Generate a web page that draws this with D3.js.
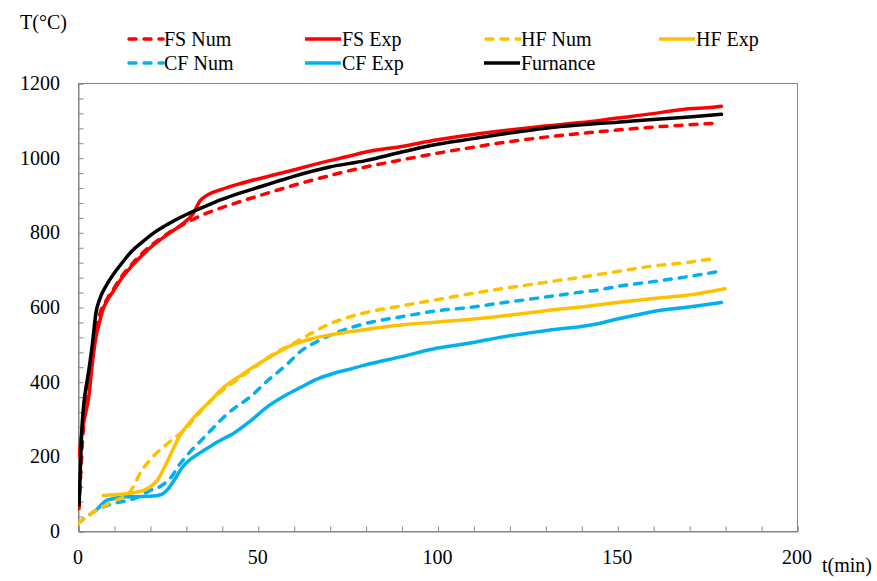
<!DOCTYPE html>
<html>
<head>
<meta charset="utf-8">
<script src="https://cdn.jsdelivr.net/npm/d3@7"></script>
<style>
  body { margin: 0; background: #fff; }
  text { font-family: "Liberation Serif", "Times New Roman", serif; fill: #000; }
</style>
</head>
<body>
<div id="chart_container"></div>
<script>
  // time (min) and temperature (°C)
  const furnaceT = [0.3, 0.6, 1, 1.5, 2, 3, 4, 5, 6, 8, 10, 12, 15, 18, 21, 25, 30, 35, 40, 45, 50, 55, 60, 70, 80, 90, 100, 110, 120, 130, 140, 150, 160, 170, 179];
  const furnaceV = [70, 150, 260, 330, 370, 430, 500, 585, 620, 660, 690, 715, 750, 775, 798, 822, 847, 868, 888, 905, 920, 935, 950, 975, 992, 1015, 1036, 1051, 1066, 1079, 1088, 1095, 1102, 1109, 1116];

  const fsExpT = [0.3, 1, 2, 3, 4, 5, 6, 7, 8, 10, 12, 15, 18, 21, 25, 29, 32, 34, 36, 40, 45, 50, 55, 60, 65, 70, 75, 80, 90, 100, 110, 120, 130, 140, 150, 160, 165, 170, 175, 179];
  const fsExpV = [200, 260, 310, 360, 450, 520, 560, 595, 615, 645, 675, 710, 740, 766, 795, 822, 850, 885, 900, 915, 930, 943, 955, 967, 980, 992, 1003, 1015, 1030, 1048, 1062, 1074, 1085, 1094, 1106, 1118, 1125, 1131, 1134, 1138];

  const fsNumT = [0.3, 1, 2, 3, 4, 5, 6, 8, 10, 12, 15, 18, 21, 25, 30, 35, 40, 45, 50, 60, 70, 80, 90, 100, 110, 120, 130, 140, 150, 160, 170, 177];
  const fsNumV = [60, 200, 330, 410, 480, 540, 580, 620, 650, 680, 715, 745, 770, 797, 825, 848, 866, 882, 897, 926, 952, 975, 994, 1012, 1028, 1043, 1055, 1065, 1074, 1082, 1088, 1092];

  const hfExpT = [7, 10, 15, 18, 20, 22, 24, 26, 28, 30, 33, 37, 40, 45, 50, 55, 60, 65, 70, 75, 80, 90, 100, 110, 120, 130, 140, 150, 160, 170, 175, 180];
  const hfExpV = [95, 97, 102, 108, 118, 135, 170, 210, 250, 278, 312, 350, 380, 415, 447, 475, 500, 515, 525, 533, 540, 552, 560, 568, 578, 590, 600, 612, 623, 632, 640, 649];

  const hfNumT = [0, 5, 10, 14, 15.5, 17, 20, 25, 30, 35, 40, 45, 50, 55, 60, 65, 70, 75, 80, 90, 100, 110, 120, 130, 140, 150, 160, 170, 177];
  const hfNumV = [20, 55, 80, 100, 120, 150, 190, 235, 275, 330, 375, 410, 445, 478, 503, 530, 555, 572, 585, 603, 620, 637, 652, 666, 680, 695, 710, 720, 730];

  const cfExpT = [5, 6, 8, 10, 13, 16, 20, 23, 25, 27, 29, 31, 34, 37, 40, 43, 48, 53, 58, 62, 66, 71, 75, 80, 90, 100, 110, 117, 125, 131, 140, 145, 150, 155, 160, 170, 179];
  const cfExpV = [55, 65, 82, 87, 92, 92, 93, 97, 112, 140, 170, 190, 210, 228, 245, 260, 295, 335, 365, 385, 405, 422, 432, 445, 467, 490, 505, 518, 530, 538, 548, 556, 568, 578, 588, 600, 612];

  const cfNumT = [0, 3, 5, 8, 10, 13, 16, 20, 23, 26, 28, 31, 34, 37, 40, 43, 48, 53, 58, 62, 66, 71, 75, 80, 90, 100, 110, 117, 125, 131, 140, 145, 150, 160, 170, 178];
  const cfNumV = [20, 42, 55, 68, 74, 80, 88, 108, 120, 145, 175, 210, 240, 270, 300, 325, 360, 405, 445, 482, 505, 528, 542, 556, 574, 590, 600, 610, 620, 628, 640, 646, 655, 668, 682, 695];

  const seriesNames = ['FS Num', 'FS Exp', 'HF Num', 'HF Exp', 'CF Num', 'CF Exp', 'Furnance'];
  const seriesColors = ['#ff0000', '#ff0000', '#ffc000', '#ffc000', '#00b0f0', '#00b0f0', '#000000'];
  const seriesDashed = [true, false, true, false, true, false, false];
  const seriesT = [fsNumT, fsExpT, hfNumT, hfExpT, cfNumT, cfExpT, furnaceT];
  const seriesV = [fsNumV, fsExpV, hfNumV, hfExpV, cfNumV, cfExpV, furnaceV];

  const xTicks = [0, 50, 100, 150, 200];
  const yTicks = [0, 200, 400, 600, 800, 1000, 1200];

  const W = 877, H = 581;
  const plotLeft = 78, plotRight = 797, plotTop = 83, plotBottom = 531;

  const svg = d3.select('#chart_container').append('svg')
    .attr('width', W)
    .attr('height', H);

  const xScale = d3.scaleLinear().domain([0, 200]).range([plotLeft, plotRight]);
  const yScale = d3.scaleLinear().domain([0, 1200]).range([plotBottom, plotTop]);

  // plot border
  svg.append('rect')
    .attr('x', plotLeft + 0.5)
    .attr('y', plotTop + 0.5)
    .attr('width', plotRight - plotLeft)
    .attr('height', plotBottom - plotTop)
    .attr('fill', 'none')
    .attr('stroke', '#868686')
    .attr('stroke-width', 1);

  // minor ticks pointing inward
  const xAxis = svg.append('g')
    .attr('transform', `translate(0.5, ${plotBottom + 0.5})`)
    .call(d3.axisTop(xScale).tickValues(d3.range(0, 201, 10)).tickSize(5).tickFormat(''));
  const yAxis = svg.append('g')
    .attr('transform', `translate(${plotLeft + 0.5}, 0.5)`)
    .call(d3.axisRight(yScale).tickValues(d3.range(0, 1201, 40)).tickSize(5).tickFormat(''));
  [xAxis, yAxis].forEach(a => {
    a.select('.domain').attr('stroke', '#868686');
    a.selectAll('.tick line').attr('stroke', '#868686');
  });

  // tick labels
  svg.append('g').selectAll('text')
    .data(xTicks)
    .enter()
    .append('text')
    .attr('x', d => xScale(d))
    .attr('y', 564)
    .attr('text-anchor', 'middle')
    .style('font-size', '20px')
    .text(d => d);

  svg.append('g').selectAll('text')
    .data(yTicks)
    .enter()
    .append('text')
    .attr('x', 60)
    .attr('y', d => yScale(d) + 7)
    .attr('text-anchor', 'end')
    .style('font-size', '20px')
    .text(d => d);

  svg.append('text')
    .attr('x', 20)
    .attr('y', 29)
    .style('font-size', '20px')
    .text('T(°C)');

  svg.append('text')
    .attr('x', 822)
    .attr('y', 572)
    .style('font-size', '20px')
    .text('t(min)');

  // lines
  const line = d3.line()
    .x(d => xScale(d[0]))
    .y(d => yScale(d[1]))
    .curve(d3.curveMonotoneX);

  svg.append('clipPath').attr('id', 'plotclip')
    .append('rect')
    .attr('x', plotLeft).attr('y', plotTop)
    .attr('width', plotRight - plotLeft).attr('height', plotBottom - plotTop);

  const drawOrder = [4, 5, 2, 3, 0, 1, 6];
  svg.append('g')
    .attr('clip-path', 'url(#plotclip)')
    .selectAll('path')
    .data(drawOrder)
    .enter()
    .append('path')
    .attr('d', i => line(seriesT[i].map((t, k) => [t, seriesV[i][k]])))
    .attr('fill', 'none')
    .attr('stroke', i => seriesColors[i])
    .attr('stroke-width', 3.5)
    .attr('stroke-linecap', 'round')
    .attr('stroke-linejoin', 'round')
    .attr('stroke-dasharray', i => seriesDashed[i] ? '7,8' : null);

  // legend
  const legendX = [127, 305, 484, 659];
  const legendY = [39, 63];
  const legend = svg.append('g').selectAll('g')
    .data(seriesNames)
    .enter()
    .append('g')
    .attr('transform', (d, i) => `translate(${legendX[i % 4]}, ${legendY[Math.floor(i / 4)]})`);

  legend.append('line')
    .attr('x1', (d, i) => seriesDashed[i] ? 2 : 0)
    .attr('x2', 36)
    .attr('stroke', (d, i) => seriesColors[i])
    .attr('stroke-width', 3.5)
    .attr('stroke-linecap', (d, i) => seriesDashed[i] ? 'round' : 'butt')
    .attr('stroke-dasharray', (d, i) => seriesDashed[i] ? '7,8' : null);

  legend.append('text')
    .attr('x', 37)
    .attr('y', 7)
    .style('font-size', '20px')
    .text(d => d);
</script>
</body>
</html>
